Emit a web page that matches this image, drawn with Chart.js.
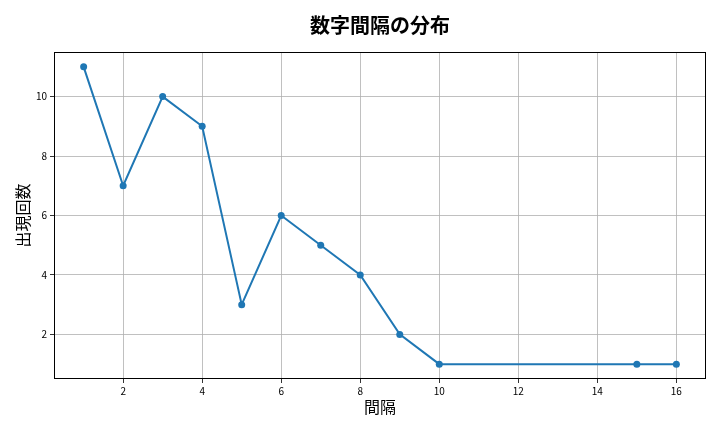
<!DOCTYPE html>
<html>
<head>
<meta charset="utf-8">
<script src="https://cdn.jsdelivr.net/npm/chart.js@4"></script>
<style>
html,body{margin:0;padding:0;background:#fff;}
#wrap{width:720px;height:432px;}
</style>
</head>
<body>
<div id="wrap"><canvas id="c" width="720" height="432"></canvas></div>
<script>
const intervals = [1, 2, 3, 4, 5, 6, 7, 8, 9, 10, 15, 16];
const counts = [11, 7, 10, 9, 3, 6, 5, 4, 2, 1, 1, 1];
const xTicks = [2, 4, 6, 8, 10, 12, 14, 16];
const yTicks = [2, 4, 6, 8, 10];
const chartTitle = '数字間隔の分布';

const CJK = "'Noto Sans CJK JP', 'Noto Sans', sans-serif";

const framePlugin = {
  id: 'frame',
  afterDraw(chart) {
    const {ctx, chartArea: a} = chart;
    ctx.save();
    ctx.strokeStyle = '#000';
    ctx.lineWidth = 1;
    ctx.strokeRect(Math.round(a.left) + 0.5, Math.round(a.top) + 0.5,
      Math.round(a.right - a.left) - 1, Math.round(a.bottom - a.top) - 1);
    // title centered over the plot area
    ctx.fillStyle = '#000';
    ctx.font = 'bold 20px ' + CJK;
    ctx.textAlign = 'center';
    ctx.textBaseline = 'middle';
    ctx.fillText(chartTitle, (a.left + a.right) / 2, 25);
    ctx.restore();
  }
};

new Chart(document.getElementById('c'), {
  type: 'line',
  data: {
    datasets: [{
      data: intervals.map((x, i) => ({x: x, y: counts[i]})),
      borderColor: '#1f77b4',
      backgroundColor: '#1f77b4',
      borderWidth: 2,
      pointRadius: 3.5,
      pointHoverRadius: 3.5,
      pointBorderWidth: 0,
      tension: 0,
      fill: false
    }]
  },
  plugins: [framePlugin],
  options: {
    responsive: false,
    animation: false,
    devicePixelRatio: 1,
    layout: {padding: {left: 0, right: 14, top: 52, bottom: 0}},
    plugins: {
      legend: {display: false},
      tooltip: {enabled: false},
      title: {display: false}
    },
    scales: {
      x: {
        type: 'linear',
        min: 0.25,
        max: 16.75,
        afterBuildTicks(scale) { scale.ticks = xTicks.map(v => ({value: v})); },
        afterFit(scale) { scale.height = 53; },
        grid: {color: '#b0b0b0', lineWidth: 0.8, tickColor: '#000', tickLength: 4, drawTicks: true},
        border: {display: false},
        ticks: {color: '#000', font: {family: CJK, size: 10}, padding: 2, maxRotation: 0},
        title: {
          display: true, text: '間隔', color: '#000',
          font: {family: CJK, size: 16, lineHeight: 1.2},
          padding: {top: 0, bottom: 15}
        }
      },
      y: {
        type: 'linear',
        min: 0.5,
        max: 11.5,
        afterBuildTicks(scale) { scale.ticks = yTicks.map(v => ({value: v})); },
        afterFit(scale) { scale.width = 54; },
        grid: {color: '#b0b0b0', lineWidth: 0.8, tickColor: '#000', tickLength: 4, drawTicks: true},
        border: {display: false},
        ticks: {color: '#000', font: {family: CJK, size: 10}, padding: 3},
        title: {
          display: true, text: '出現回数', color: '#000',
          font: {family: CJK, size: 16, lineHeight: 1.2},
          padding: {top: 13, bottom: 0}
        }
      }
    }
  }
});
</script>
</body>
</html>
